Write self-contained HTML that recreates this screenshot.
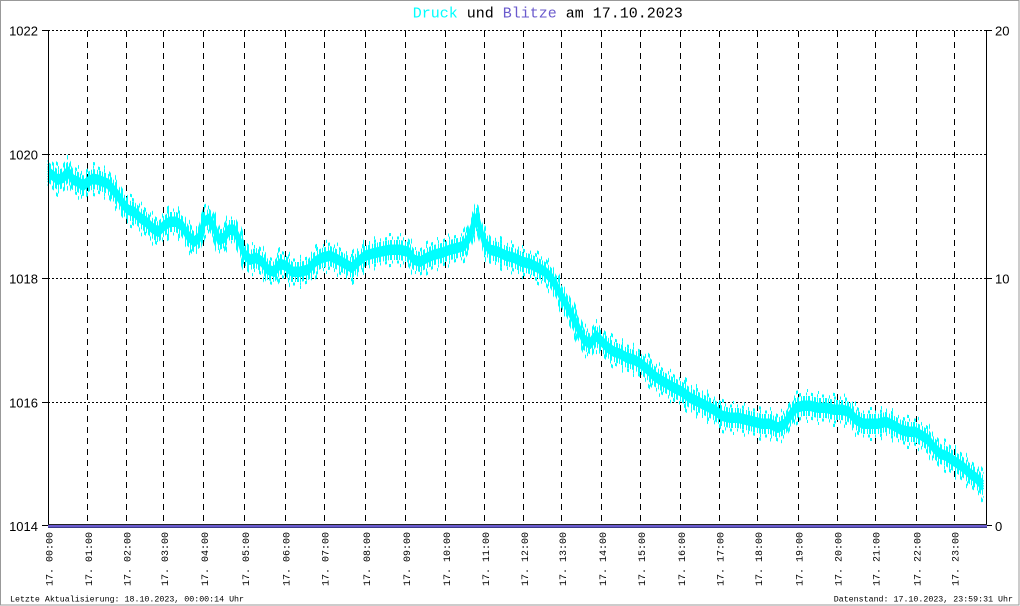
<!DOCTYPE html>
<html><head><meta charset="utf-8"><style>
html,body{margin:0;padding:0;background:#fff;}
svg{display:block;}
</style></head><body>
<svg width="1020" height="606" viewBox="0 0 1020 606" xmlns="http://www.w3.org/2000/svg" xmlns:xlink="http://www.w3.org/1999/xlink">
<defs>
<pattern id="pa" patternUnits="userSpaceOnUse" x="0" y="0" width="11" height="606">
<rect x="0" y="0" width="2" height="606" fill="#00ffff"/>
<rect x="3" y="0" width="1" height="606" fill="#00ffff"/>
<rect x="5" y="0" width="2" height="606" fill="#00ffff"/>
<rect x="9" y="0" width="1" height="606" fill="#00ffff"/>
</pattern>
<pattern id="pb" patternUnits="userSpaceOnUse" x="0" y="0" width="23" height="606">
<rect x="1" y="0" width="1" height="606" fill="#00ffff"/>
<rect x="6" y="0" width="2" height="606" fill="#00ffff"/>
<rect x="12" y="0" width="1" height="606" fill="#00ffff"/>
<rect x="17" y="0" width="2" height="606" fill="#00ffff"/>
</pattern>
<pattern id="pc" patternUnits="userSpaceOnUse" x="0" y="0" width="37" height="606">
<rect x="4" y="0" width="1" height="606" fill="#00ffff"/>
<rect x="19" y="0" width="2" height="606" fill="#00ffff"/>
<rect x="30" y="0" width="1" height="606" fill="#00ffff"/>
</pattern>
<polyline id="c" fill="none" points="48,172 53,176 58,180 63,178 68,172 73,180 78,182 83,186 88,182 93,179 98,180 103,182 108,184 113,190 118,196 123,204 128,210 134,212 140,218 146,222 152,228 158,232 164,226 170,222 176,222 182,226 188,236 194,242 199,238 204,222 209,219 214,228 219,240 224,238 229,230 234,230 239,240 244,254 250,260 256,258 262,262 268,270 274,272 280,264 286,266 292,272 300,272 308,270 315,262 322,258 330,256 338,260 345,264 352,268 358,262 365,256 372,254 380,252 390,250 400,250 408,252 414,260 420,262 427,258 434,255 442,253 450,250 458,248 464,246 469,238 473,226 477,218 480,228 484,242 490,250 498,252 506,256 514,258 522,262 530,264 538,268 545,272 551,278 556,286 561,296 566,304 572,316 578,328 584,340 590,344 596,336 602,342 608,348 614,352 620,354 627,358 634,360 641,364 648,370 654,376 660,380 667,384 674,388 682,392 690,398 698,402 706,406 714,410 722,416 730,418 738,418 746,420 754,422 762,424 770,424 778,428 785,424 790,416 796,408 803,406 810,406 818,408 826,408 834,410 842,410 849,412 856,420 863,424 870,424 878,424 886,422 894,426 901,430 908,432 915,432 922,436 928,440 934,448 940,454 946,456 952,460 958,464 964,468 970,474 976,478 983,486"/>
</defs>
<rect x="0" y="0" width="1020" height="606" fill="#fff"/>
<rect x="0.5" y="0.5" width="1018.5" height="604.5" fill="none" stroke="#999" stroke-width="1"/>

<!-- title -->
<text x="412.7" y="17.5" font-family="Liberation Mono, monospace" font-size="15" fill="#000"><tspan fill="#00ffff">Druck</tspan> und <tspan fill="#6a5acd">Blitze</tspan> am 17.10.2023</text>

<!-- horizontal dotted gridlines -->
<g stroke="#000" stroke-width="1" stroke-dasharray="2 2">
<line x1="48" y1="30.5" x2="986" y2="30.5"/>
<line x1="48" y1="154.5" x2="986" y2="154.5"/>
<line x1="48" y1="278.5" x2="986" y2="278.5"/>
<line x1="48" y1="402.5" x2="986" y2="402.5"/>
</g>

<!-- vertical dashed gridlines -->
<g stroke="#000" stroke-width="1" stroke-dasharray="6 5">
<line x1="87.5" y1="31" x2="87.5" y2="524"/>
<line x1="126.5" y1="31" x2="126.5" y2="524"/>
<line x1="163.5" y1="31" x2="163.5" y2="524"/>
<line x1="203.5" y1="31" x2="203.5" y2="524"/>
<line x1="244.5" y1="31" x2="244.5" y2="524"/>
<line x1="285.5" y1="31" x2="285.5" y2="524"/>
<line x1="324.5" y1="31" x2="324.5" y2="524"/>
<line x1="365.5" y1="31" x2="365.5" y2="524"/>
<line x1="405.5" y1="31" x2="405.5" y2="524"/>
<line x1="445.5" y1="31" x2="445.5" y2="524"/>
<line x1="484.5" y1="31" x2="484.5" y2="524"/>
<line x1="523.5" y1="31" x2="523.5" y2="524"/>
<line x1="561.5" y1="31" x2="561.5" y2="524"/>
<line x1="601.5" y1="31" x2="601.5" y2="524"/>
<line x1="640.5" y1="31" x2="640.5" y2="524"/>
<line x1="680.5" y1="31" x2="680.5" y2="524"/>
<line x1="719.5" y1="31" x2="719.5" y2="524"/>
<line x1="757.5" y1="31" x2="757.5" y2="524"/>
<line x1="798.5" y1="31" x2="798.5" y2="524"/>
<line x1="837.5" y1="31" x2="837.5" y2="524"/>
<line x1="875.5" y1="31" x2="875.5" y2="524"/>
<line x1="916.5" y1="31" x2="916.5" y2="524"/>
<line x1="954.5" y1="31" x2="954.5" y2="524"/>
</g>

<!-- data curve: noisy band built from vertically shifted copies -->
<g fill="none" stroke-width="3" stroke-linejoin="round">
<use href="#c" xlink:href="#c" stroke="url(#pc)" transform="translate(0,-15.5)"/>
<use href="#c" xlink:href="#c" stroke="url(#pc)" transform="translate(0,15.5)"/>
<use href="#c" xlink:href="#c" stroke="url(#pb)" transform="translate(0,-12)"/>
<use href="#c" xlink:href="#c" stroke="url(#pb)" transform="translate(0,12)"/>
<use href="#c" xlink:href="#c" stroke="url(#pa)" transform="translate(0,-8.5)"/>
<use href="#c" xlink:href="#c" stroke="url(#pa)" transform="translate(0,-6)"/>
<use href="#c" xlink:href="#c" stroke="url(#pa)" transform="translate(0,6)"/>
<use href="#c" xlink:href="#c" stroke="url(#pa)" transform="translate(0,8.5)"/>
<use href="#c" xlink:href="#c" stroke="#00ffff" transform="translate(0,-4)"/>
<use href="#c" xlink:href="#c" stroke="#00ffff" transform="translate(0,-1.5)"/>
<use href="#c" xlink:href="#c" stroke="#00ffff" transform="translate(0,1)"/>
<use href="#c" xlink:href="#c" stroke="#00ffff" transform="translate(0,3.5)"/>
</g>

<!-- axes -->
<g stroke="#000" stroke-width="1">
<line x1="48.5" y1="30" x2="48.5" y2="527"/>
<line x1="986.5" y1="30" x2="986.5" y2="527"/>
<line x1="42" y1="30.5" x2="48" y2="30.5"/>
<line x1="42" y1="154.5" x2="48" y2="154.5"/>
<line x1="42" y1="278.5" x2="48" y2="278.5"/>
<line x1="42" y1="402.5" x2="48" y2="402.5"/>
<line x1="42" y1="525.5" x2="48" y2="525.5"/>
<line x1="986" y1="30.5" x2="992" y2="30.5"/>
<line x1="986" y1="278.5" x2="992" y2="278.5"/>
<line x1="986" y1="525.5" x2="992" y2="525.5"/>
</g>
<rect x="48" y="524" width="939" height="1" fill="#222"/>
<rect x="48" y="525" width="939" height="2" fill="#6a5acd"/>
<rect x="48" y="527" width="939" height="1" fill="#3c3c8c"/>

<!-- y labels -->
<g font-family="Liberation Sans, sans-serif" font-size="13" fill="#000">
<text x="38" y="35.3" text-anchor="end">1022</text>
<text x="38" y="159.3" text-anchor="end">1020</text>
<text x="38" y="283.3" text-anchor="end">1018</text>
<text x="38" y="407.3" text-anchor="end">1016</text>
<text x="38" y="531" text-anchor="end">1014</text>
<text x="995" y="35.3">20</text>
<text x="995" y="283.3">10</text>
<text x="995" y="531">0</text>
</g>

<!-- x labels -->
<g font-family="Liberation Mono, monospace" font-size="10" fill="#000" text-anchor="end">
<text transform="translate(52.5,532) rotate(-90)">17. 00:00</text>
<text transform="translate(91.8,532) rotate(-90)">17. 01:00</text>
<text transform="translate(130.5,532) rotate(-90)">17. 02:00</text>
<text transform="translate(168,532) rotate(-90)">17. 03:00</text>
<text transform="translate(207.8,532) rotate(-90)">17. 04:00</text>
<text transform="translate(248.8,532) rotate(-90)">17. 05:00</text>
<text transform="translate(289.5,532) rotate(-90)">17. 06:00</text>
<text transform="translate(328.5,532) rotate(-90)">17. 07:00</text>
<text transform="translate(369.8,532) rotate(-90)">17. 08:00</text>
<text transform="translate(409.8,532) rotate(-90)">17. 09:00</text>
<text transform="translate(449.8,532) rotate(-90)">17. 10:00</text>
<text transform="translate(488.8,532) rotate(-90)">17. 11:00</text>
<text transform="translate(527.8,532) rotate(-90)">17. 12:00</text>
<text transform="translate(565.8,532) rotate(-90)">17. 13:00</text>
<text transform="translate(605.8,532) rotate(-90)">17. 14:00</text>
<text transform="translate(644.8,532) rotate(-90)">17. 15:00</text>
<text transform="translate(684.8,532) rotate(-90)">17. 16:00</text>
<text transform="translate(723.5,532) rotate(-90)">17. 17:00</text>
<text transform="translate(762.2,532) rotate(-90)">17. 18:00</text>
<text transform="translate(802.5,532) rotate(-90)">17. 19:00</text>
<text transform="translate(841.5,532) rotate(-90)">17. 20:00</text>
<text transform="translate(879.5,532) rotate(-90)">17. 21:00</text>
<text transform="translate(920.5,532) rotate(-90)">17. 22:00</text>
<text transform="translate(958.5,532) rotate(-90)">17. 23:00</text>
</g>

<!-- footer -->
<g font-family="Liberation Mono, monospace" font-size="8.3" fill="#000">
<text x="10" y="601.5">Letzte Aktualisierung: 18.10.2023, 00:00:14 Uhr</text>
<text x="1013" y="601.5" text-anchor="end">Datenstand: 17.10.2023, 23:59:31 Uhr</text>
</g>
</svg>
</body></html>
